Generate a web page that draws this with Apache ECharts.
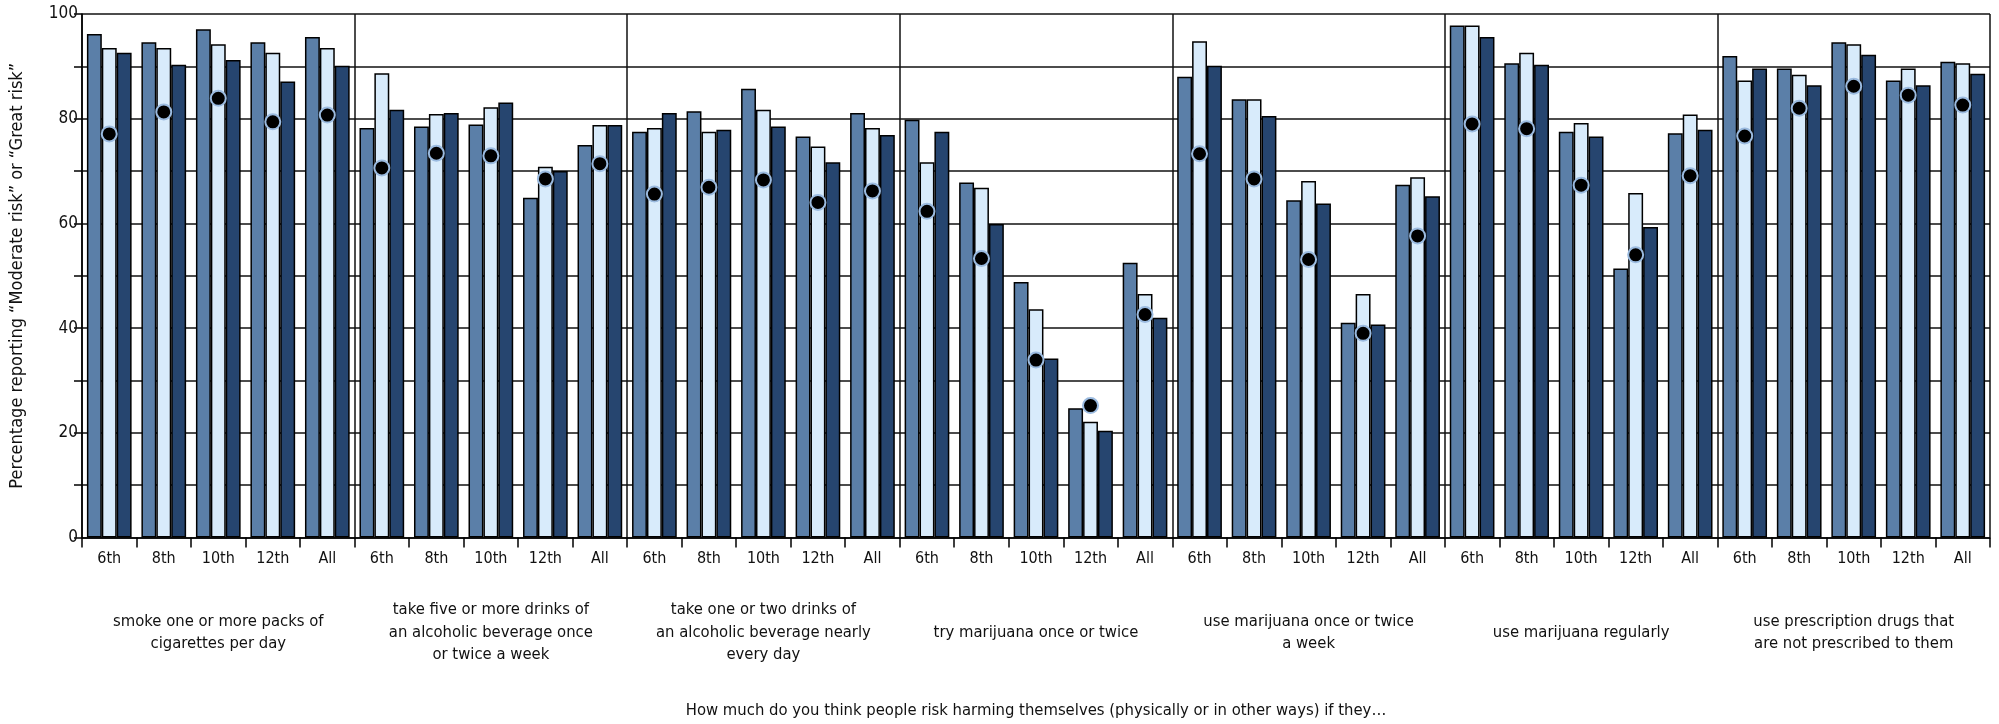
<!DOCTYPE html>
<html>
<head>
<meta charset="utf-8">
<script src="https://cdn.jsdelivr.net/npm/echarts@6/dist/echarts.min.js"></script>
<style>html,body{margin:0;padding:0;background:#fff}#c{width:1999px;height:724px}</style>
</head>
<body>
<div id="c"></div>
<script>
var grades = ['6th','8th','10th','12th','All'];
var groups = [
  'smoke one or more packs of\ncigarettes per day',
  'take five or more drinks of\nan alcoholic beverage once\nor twice a week',
  'take one or two drinks of\nan alcoholic beverage nearly\nevery day',
  'try marijuana once or twice',
  'use marijuana once or twice\na week',
  'use marijuana regularly',
  'use prescription drugs that\nare not prescribed to them'
];
var yTicks = [0, 20, 40, 60, 80, 100];
var seriesA = [96.2,94.6,97.1,94.6,95.6, 78.2,78.5,78.9,64.9,75.0, 77.5,81.4,85.7,76.6,81.1, 79.8,67.8,48.8,24.7,52.5, 88.0,83.7,64.4,41.0,67.4, 97.8,90.6,77.5,51.4,77.2, 92.0,89.6,94.6,87.3,90.9];
var seriesB = [93.5,93.5,94.2,92.6,93.5, 88.7,80.9,82.2,70.8,78.8, 78.2,77.5,81.7,74.7,78.2, 71.7,66.8,43.6,22.1,46.5, 94.8,83.7,68.1,46.5,68.8, 97.8,92.6,79.2,65.8,80.8, 87.3,88.4,94.2,89.6,90.6];
var seriesC = [92.6,90.3,91.2,87.1,90.1, 81.7,81.1,83.1,70.0,78.8, 81.1,77.9,78.5,71.7,76.9, 77.5,59.9,34.2,20.4,42.0, 90.1,80.5,63.8,40.7,65.2, 95.6,90.3,76.6,59.3,77.9, 89.6,86.4,92.2,86.4,88.6];
var dots = [77.1,81.3,83.9,79.4,80.7, 70.6,73.4,72.9,68.5,71.4, 65.6,66.9,68.3,64.0,66.2, 62.3,53.3,33.9,25.2,42.6, 73.3,68.5,53.1,39.0,57.6, 79.0,78.1,67.3,54.0,69.1, 76.7,82.0,86.2,84.5,82.6];
var yTitle = 'Percentage reporting \u201cModerate risk\u201d or \u201cGreat risk\u201d';
var xTitle = 'How much do you think people risk harming themselves (physically or in other ways) if they\u2026';

var FONT = "'Liberation Sans Narrow', 'DejaVu Sans Condensed', 'Noto Sans', sans-serif";
var cats = [];
groups.forEach(function (g, gi) { grades.forEach(function (gr) { cats.push(gr + '|' + gi); }); });

var chart = echarts.init(document.getElementById('c'), null, {renderer: 'canvas'});
var barStyle = function (color) {
  return {color: color, borderColor: '#000', borderWidth: 1.5, opacity: 1};
};
chart.setOption({
  animation: false,
  backgroundColor: '#fff',
  textStyle: {fontFamily: FONT},
  grid: {left: 77, right: 9, top: 14, bottom: 185, containLabel: false},
  xAxis: [{
    type: 'category',
    data: cats,
    boundaryGap: true,
    axisLine: {show: true, lineStyle: {color: '#000', width: 1.5}},
    axisTick: {show: true, interval: 0, length: 10, lineStyle: {color: '#000', width: 1.5}},
    axisLabel: {interval: 0, margin: 13, fontSize: 16, color: '#111', fontFamily: FONT,
      formatter: function (v) { return v.split('|')[0]; }},
    splitLine: {show: false}
  }, {
    type: 'category',
    data: groups,
    position: 'bottom',
    offset: 87,
    boundaryGap: true,
    axisLine: {show: false},
    axisTick: {show: false},
    axisLabel: {interval: 0, margin: 8, fontSize: 16.5, lineHeight: 22.5, color: '#111',
      verticalAlign: 'middle', align: 'center', fontFamily: FONT},
    splitLine: {show: true, interval: 0, lineStyle: {color: '#111', width: 1.5}},
    name: xTitle,
    nameLocation: 'middle',
    nameGap: 86,
    nameTextStyle: {fontSize: 16.5, color: '#111', verticalAlign: 'middle', fontFamily: FONT}
  }],
  yAxis: {
    type: 'value',
    min: 0, max: 100, interval: 10,
    axisLine: {show: true, lineStyle: {color: '#000', width: 1.5}},
    axisTick: {show: true, length: 8, lineStyle: {color: '#000', width: 1.5}},
    axisLabel: {margin: 4, fontSize: 17, color: '#111', fontFamily: FONT,
      formatter: function (v) { return yTicks.indexOf(v) >= 0 ? String(v) : ''; }},
    splitLine: {show: true, lineStyle: {color: '#111', width: 1.5}},
    name: yTitle,
    nameLocation: 'middle',
    nameGap: 56,
    nameTextStyle: {fontSize: 18, color: '#111', fontFamily: FONT}
  },
  series: [
    {type: 'bar', name: 'A', data: seriesA, barGap: '0%', barCategoryGap: '18%', itemStyle: barStyle('#5b7fa8'), z: 2},
    {type: 'bar', name: 'B', data: seriesB, barGap: '0%', barCategoryGap: '18%', itemStyle: barStyle('#d8ebfb'), z: 2},
    {type: 'bar', name: 'C', data: seriesC, barGap: '0%', barCategoryGap: '18%', itemStyle: barStyle('#26456f'), z: 2},
    {type: 'scatter', name: 'D', data: dots, symbol: 'circle', symbolSize: 15, z: 5,
      itemStyle: {color: '#000', borderColor: '#9bbbe0', borderWidth: 2, opacity: 1}}
  ]
});
</script>
</body>
</html>
